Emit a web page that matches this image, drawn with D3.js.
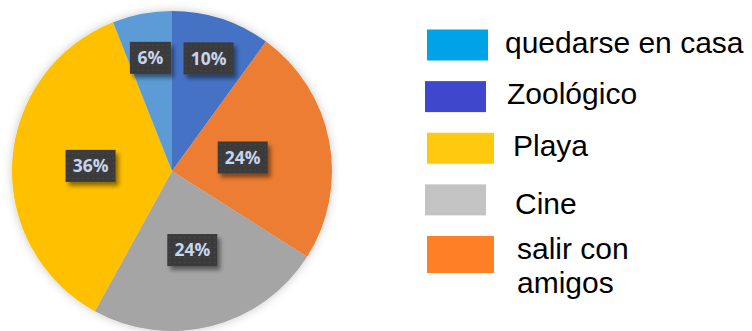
<!DOCTYPE html>
<html>
<head>
<meta charset="utf-8">
<script src="https://cdn.jsdelivr.net/npm/d3@7"></script>
<style>
  html, body { margin: 0; padding: 0; background: #fff; }
  svg { display: block; }
</style>
</head>
<body>
<svg id="chart" width="752" height="331"></svg>
<script>
// Slices, clockwise from twelve o'clock
const categories = ["Zoológico", "salir con amigos", "Cine", "Playa", "quedarse en casa"];
const values = [10, 24, 24, 36, 6];
const sliceColors = ["#4472C4", "#ED7D31", "#A5A5A5", "#FFC000", "#5B9BD5"];
// Radial placement of each value label, as a fraction of the radius
const labelRadius = [0.74, 0.45, 0.51, 0.51, 0.72];

// Legend entries, top to bottom
const legendLabels = ["quedarse en casa", "Zoológico", "Playa", "Cine", ["salir con", "amigos"]];
const legendColors = ["#00A2E8", "#3F48CC", "#FFC90E", "#C3C3C3", "#FF7F27"];
const legendTextNudge = [2, 4, 10, 12, 14];

const svg = d3.select("#chart");
const defs = svg.append("defs");

// soft halo around the pie
const halo = defs.append("filter").attr("id", "halo")
  .attr("x", "-20%").attr("y", "-20%").attr("width", "140%").attr("height", "140%");
halo.append("feGaussianBlur").attr("in", "SourceAlpha").attr("stdDeviation", 5).attr("result", "b");
halo.append("feFlood").attr("flood-color", "#000").attr("flood-opacity", 0.22);
halo.append("feComposite").attr("in2", "b").attr("operator", "in").attr("result", "s");
const hm = halo.append("feMerge");
hm.append("feMergeNode").attr("in", "s");
hm.append("feMergeNode").attr("in", "SourceGraphic");

// drop shadow under the label boxes
const ds = defs.append("filter").attr("id", "boxShadow")
  .attr("x", "-30%").attr("y", "-30%").attr("width", "170%").attr("height", "170%");
ds.append("feGaussianBlur").attr("in", "SourceAlpha").attr("stdDeviation", 2).attr("result", "b");
ds.append("feOffset").attr("in", "b").attr("dx", 3).attr("dy", 4).attr("result", "o");
ds.append("feFlood").attr("flood-color", "#000").attr("flood-opacity", 0.45);
ds.append("feComposite").attr("in2", "o").attr("operator", "in").attr("result", "s");
const dm = ds.append("feMerge");
dm.append("feMergeNode").attr("in", "s");
dm.append("feMergeNode").attr("in", "SourceGraphic");

// dotted fill for the label boxes
const pat = defs.append("pattern").attr("id", "dots")
  .attr("width", 5).attr("height", 5).attr("patternUnits", "userSpaceOnUse");
pat.append("rect").attr("width", 5).attr("height", 5).attr("fill", "#3a3a3b");
pat.append("circle").attr("cx", 2.5).attr("cy", 2.5).attr("r", 0.8).attr("fill", "#4d4d50");

const cx = 172, cy = 171, radius = 160;
const pie = d3.pie().sort(null).value(d => d.v);
const arcs = pie(categories.map((c, i) => ({ c, v: values[i], i })));
const arc = d3.arc().innerRadius(0).outerRadius(radius);

const g = svg.append("g").attr("transform", `translate(${cx},${cy})`);
g.append("g").attr("filter", "url(#halo)")
  .selectAll("path").data(arcs).join("path")
  .attr("d", arc)
  .attr("fill", d => sliceColors[d.data.i]);

// value labels
const lab = g.selectAll("g.lab").data(arcs).join("g").attr("class", "lab")
  .attr("transform", d => {
    const r = radius * labelRadius[d.data.i];
    const a = (d.startAngle + d.endAngle) / 2;
    return `translate(${r * Math.sin(a)},${-r * Math.cos(a)})`;
  });
lab.each(function(d) {
  const sel = d3.select(this);
  const txt = d.data.v + "%";
  const w = txt.length > 2 ? 50 : 41;
  sel.append("rect")
    .attr("x", -w / 2).attr("y", -16).attr("width", w).attr("height", 32)
    .attr("fill", "url(#dots)").attr("filter", "url(#boxShadow)");
  sel.append("text")
    .attr("text-anchor", "middle").attr("dy", "0.36em")
    .attr("font-family", "'Open Sans', 'Liberation Sans', sans-serif")
    .attr("font-weight", 700).attr("font-size", 17.5)
    .attr("fill", "#c8d5ee")
    .text(txt);
});

// legend
const ly = d3.scalePoint().domain(d3.range(legendLabels.length)).range([44.5, 251]);
const leg = svg.append("g").selectAll("g").data(legendLabels).join("g")
  .attr("transform", (d, i) => `translate(0,${ly(i)})`);
leg.append("rect")
  .attr("x", (d, i) => i % 2 ? 425 : 427)
  .attr("y", -15).attr("width", (d, i) => (i === 2 || i === 4) ? 67 : 61).attr("height", (d, i) => i === 4 ? 37 : 31)
  .attr("fill", (d, i) => legendColors[i]);
leg.each(function(d, i) {
  const lines = Array.isArray(d) ? d : [d];
  const t = d3.select(this).append("text")
    .attr("font-family", "'Liberation Sans', Arial, sans-serif")
    .attr("font-size", 30).attr("fill", "#000");
  lines.forEach((ln, k) => {
    t.append("tspan").attr("x", 503 + legendTextNudge[i])
      .attr("y", (i === 3 ? 14.5 : i === 4 ? 8 : 8) + k * 34)
      .text(ln);
  });
});
</script>
</body>
</html>
